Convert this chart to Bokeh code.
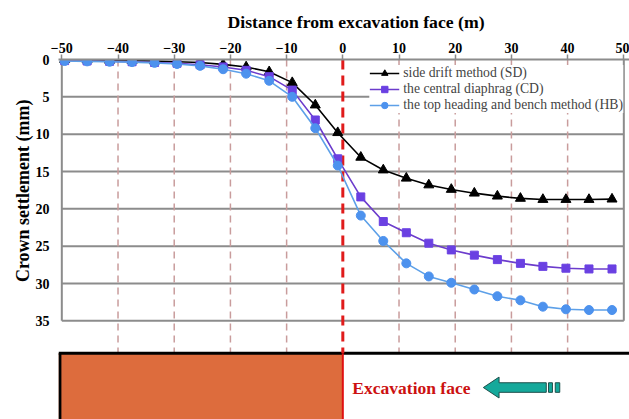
from bokeh.plotting import figure
from bokeh.models import Range1d, FixedTicker, Legend, LegendItem, Title
from bokeh.embed import file_html
from bokeh.resources import INLINE
from bokeh.core.properties import value

# ---- data ----
distance = [-49.5, -45.5, -41.5, -37.5, -33.5, -29.5, -25.4, -21.3, -17.2, -13.1, -9.0, -4.9,
            -0.9, 3.2, 7.2, 11.3, 15.3, 19.3, 23.4, 27.5, 31.6, 35.6, 39.7, 43.8, 47.9]
sd = [0.0, 0.05, 0.1, 0.15, 0.2, 0.3, 0.4, 0.65, 1.0, 1.65, 3.1, 6.1,
      9.8, 13.1, 14.8, 15.9, 16.8, 17.4, 17.9, 18.3, 18.6, 18.75, 18.75, 18.75, 18.7]
cd = [0.15, 0.2, 0.25, 0.3, 0.4, 0.5, 0.7, 1.0, 1.45, 2.3, 4.1, 8.1,
      13.3, 18.4, 21.7, 23.2, 24.6, 25.5, 26.2, 26.8, 27.3, 27.7, 27.95, 28.05, 28.05]
hb = [0.2, 0.25, 0.3, 0.35, 0.45, 0.6, 0.85, 1.3, 1.9, 2.85, 5.0, 9.2,
      14.2, 20.9, 24.3, 27.3, 29.05, 29.9, 30.8, 31.7, 32.25, 33.1, 33.45, 33.55, 33.55]
series_names = ["side drift method (SD)", "the central diaphrag (CD)",
                "the top heading and bench method (HB)"]
x_ticks = [-50, -40, -30, -20, -10, 0, 10, 20, 30, 40, 50]
y_ticks = [0, 5, 10, 15, 20, 25, 30, 35]

SERIF = "Liberation Serif"

# ---- layout constants ----
X0, X1 = -50.59, 51.01
Y_BOTTOM, Y_TOP = 48.21, 0
GROUND = 39.35
FACE = 0

p = figure(width=629, height=419, x_range=Range1d(X0, X1), y_range=Range1d(Y_BOTTOM, Y_TOP),
           x_axis_location="above", output_backend="svg", toolbar_location=None,
           min_border_left=58, min_border_right=0, min_border_top=59, min_border_bottom=0)
p.outline_line_color = None
p.xgrid.visible = False
p.ygrid.visible = False

xa = p.xaxis[0]
xa.ticker = FixedTicker(ticks=x_ticks)
xa.major_label_text_font = SERIF
xa.major_label_text_font_style = "bold"
xa.major_label_text_font_size = "14px"
xa.major_label_text_color = "black"
xa.axis_line_color = "#8c8c8c"
xa.axis_line_width = 2
xa.major_tick_line_color = "#8c8c8c"
xa.major_tick_line_width = 1.5
xa.major_tick_out = 5
xa.major_tick_in = 0
xa.minor_tick_line_color = None
xa.major_label_standoff = 2

ya = p.yaxis[0]
ya.ticker = FixedTicker(ticks=y_ticks)
ya.major_label_text_font = SERIF
ya.major_label_text_font_style = "bold"
ya.major_label_text_font_size = "14px"
ya.major_label_text_color = "black"
ya.axis_line_color = None
ya.major_tick_line_color = None
ya.minor_tick_line_color = None
ya.major_label_standoff = 3

# horizontal grid lines (and bottom frame)
grid_y = y_ticks[1:]
p.segment(x0=[x_ticks[0]] * len(grid_y), x1=[x_ticks[-1]] * len(grid_y), y0=grid_y, y1=grid_y,
          line_color="#8c8c8c", line_width=2)
# left / right frame
p.segment(x0=[x_ticks[0], x_ticks[-1]], x1=[x_ticks[0], x_ticks[-1]], y0=[y_ticks[0]] * 2,
          y1=[y_ticks[-1]] * 2, line_color="#8c8c8c", line_width=2)
# vertical dashed lines
vx = [t for t in x_ticks[1:-1] if t != FACE]
p.segment(x0=vx, x1=vx, y0=[0] * len(vx), y1=[GROUND] * len(vx), line_color="#c99c9c",
          line_width=1.5, line_dash="7 5")

# tunnel section below the chart
p.quad(left=[X0], right=[FACE], top=[GROUND], bottom=[Y_BOTTOM], fill_color="#dd6c3d",
       line_color=None)
p.segment(x0=[X0], x1=[X1], y0=[GROUND], y1=[GROUND], line_color="black", line_width=3)
p.segment(x0=[X0 + 0.25], x1=[X0 + 0.25], y0=[GROUND], y1=[Y_BOTTOM], line_color="black", line_width=3)
p.segment(x0=[FACE], x1=[FACE], y0=[GROUND], y1=[Y_BOTTOM], line_color="#e01010", line_width=2)
# red dashed excavation face line
p.segment(x0=[FACE], x1=[FACE], y0=[0], y1=[GROUND], line_color="#e01b1b", line_width=3,
          line_dash="10 6")

# "Excavation face" text and arrow
TXT_Y = 43.93
p.text(x=[1.7], y=[TXT_Y], text=["Excavation face"], text_font=value(SERIF),
       text_font_style="bold", text_font_size="17.5px", text_color="#cc1111",
       text_baseline="middle", text_align="left")
tip, head_back, tail = 25.0, 27.8, 36.2
hh, sh = 1.4, 0.64
p.patch(x=[tip, head_back, head_back, tail, tail, head_back, head_back],
        y=[TXT_Y, TXT_Y - hh, TXT_Y - sh, TXT_Y - sh, TXT_Y + sh, TXT_Y + sh, TXT_Y + hh],
        fill_color="#15a99b", line_color="#1e4f4b", line_width=1)
p.quad(left=[36.6, 37.8], right=[37.3, 38.6], top=[TXT_Y - sh] * 2, bottom=[TXT_Y + sh] * 2,
       fill_color="#15a99b", line_color="#1e4f4b", line_width=1)

# series
items = []
styles = [
    (sd, "black", "black", "triangle", 10),
    (cd, "#6c3ccc", "#6a40e2", "square", 8),
    (hb, "#5da0e8", "#4d92ee", "circle", 9),
]
for (vals, lc, mc, marker, size), name in zip(styles, series_names):
    lr = p.line(distance, vals, line_color=lc, line_width=1.6)
    sr = p.scatter(distance, vals, marker=marker, size=size, fill_color=mc, line_color=mc)
    items.append(LegendItem(label=name, renderers=[lr, sr]))

legend = Legend(items=items, location="top_right", margin=6, padding=2, spacing=0,
                label_text_font=SERIF, label_text_font_size="13.7px", label_height=16,
                glyph_height=16, glyph_width=30, label_standoff=4,
                border_line_color=None, background_fill_color="white", background_fill_alpha=1)
p.add_layout(legend)

# top title (x axis name)
p.add_layout(Title(text="Distance from excavation face (m)", align="left", offset=169,
                   text_font=SERIF, text_font_style="bold", text_font_size="17.7px",
                   text_color="black", standoff=15), "above")

# y axis title (only spans the 0..35 part): placed from the top of the frame
p.add_layout(Title(text="Crown settlement (mm)", align="right", offset=40,
                   text_font=SERIF, text_font_style="bold", text_font_size="18px",
                   text_color="black", standoff=0), "left")

open("out.html", "w").write(file_html(p, INLINE))
